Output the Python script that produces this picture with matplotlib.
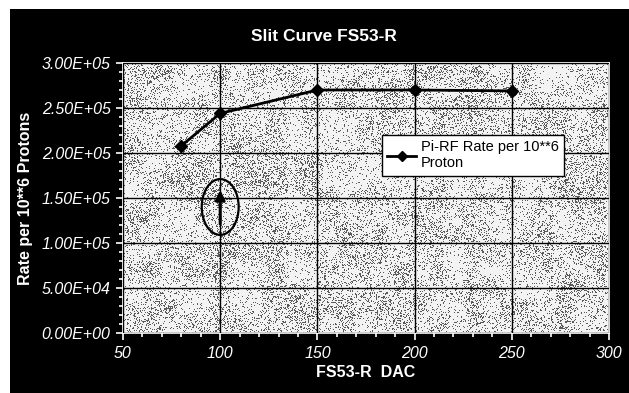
import matplotlib
matplotlib.use("Agg")
import matplotlib.pyplot as plt
import numpy as np
from matplotlib.patches import Rectangle, Ellipse
from matplotlib.ticker import MultipleLocator, FuncFormatter

plt.rcParams['font.family'] = ['Liberation Sans', 'DejaVu Sans']

# slit scan data
dac = [80, 100, 150, 200, 250]
rate = [2.08e5, 2.44e5, 2.70e5, 2.70e5, 2.69e5]
series_label = "Pi-RF Rate per 10**6\nProton"
marked_dac = dac[1]

fig = plt.figure(figsize=(6.29, 3.93), dpi=100, facecolor="white")
# black chart area (scan leaves a thin white strip at top and left)
fig.patches.append(Rectangle((10 / 629, 0), 1, 1 - 9 / 393, transform=fig.transFigure,
                             facecolor="black", edgecolor="none", zorder=-5))

ax = fig.add_axes([123 / 629, 60 / 393, 486 / 629, 270 / 393])
ax.set_xlim(50, 300)
ax.set_ylim(0, 3.0e5)

# halftone grey fill of the plot area
rng = np.random.default_rng(7)
h, w = 270, 486
coarse = rng.random((h // 18 + 2, w // 18 + 2))
dens = np.kron(coarse, np.ones((18, 18)))[:h, :w]
k = np.ones(9) / 9
for _ in range(2):
    dens = np.apply_along_axis(lambda r: np.convolve(r, k, mode="same"), 1, dens)
    dens = np.apply_along_axis(lambda c: np.convolve(c, k, mode="same"), 0, dens)
dens = 0.06 + 0.28 * dens
dots = rng.random((h, w)) < dens
tex = np.where(dots, 0.35, 0.95)
ax.imshow(tex, cmap="gray", vmin=0, vmax=1, extent=[50, 300, 0, 3.0e5],
          aspect="auto", interpolation="nearest", zorder=0)

ax.grid(True, which="major", color="black", linewidth=1.0, zorder=1)
ax.set_axisbelow(False)

ax.plot(dac, rate, color="black", linewidth=2, marker="D", markersize=6,
        label=series_label, zorder=3)

# hand-drawn mark around the 100 DAC point
ax.add_patch(Ellipse((marked_dac, 1.40e5), 19, 6.2e4, fill=False,
                     edgecolor="black", linewidth=1.6, zorder=4))
ax.annotate("", xy=(marked_dac, 1.62e5), xytext=(marked_dac, 1.18e5),
            arrowprops=dict(arrowstyle="-|>", color="black", lw=2.2,
                            mutation_scale=14), zorder=4)

ax.xaxis.set_major_locator(MultipleLocator(50))
ax.xaxis.set_minor_locator(MultipleLocator(10))
ax.yaxis.set_major_locator(MultipleLocator(5.0e4))
ax.yaxis.set_minor_locator(MultipleLocator(1.0e4))
ax.yaxis.set_major_formatter(FuncFormatter(lambda v, p: "%.2E" % v))

ax.tick_params(which="both", direction="out", color="white", labelcolor="white")
ax.tick_params(which="major", length=5, width=1.2, labelsize=11.5, pad=4)
ax.tick_params(which="minor", length=3, width=1.2)
for lab in ax.get_xticklabels() + ax.get_yticklabels():
    lab.set_fontstyle("italic")
for s in ax.spines.values():
    s.set_color("white")
    s.set_linewidth(1.2)

fig.text(0.515, 0.908, "Slit Curve FS53-R", color="white", fontsize=12.5,
         fontweight="bold", ha="center", va="center")
ax.set_xlabel("FS53-R  DAC", color="white", fontsize=11.5, fontweight="bold",
              labelpad=3)
ax.set_ylabel("Rate per 10**6 Protons", color="white", fontsize=11.5,
              fontweight="bold", labelpad=6)

leg = ax.legend(loc="upper left", bbox_to_anchor=(0.518, 0.76), fontsize=10.5,
                frameon=True, fancybox=False, framealpha=1, edgecolor="black",
                handlelength=2.0, handletextpad=0.3, borderpad=0.35,
                markerscale=0.8)
leg.get_frame().set_linewidth(1.0)
leg.set_zorder(5)

fig.savefig("out.png", dpi=100, facecolor=fig.get_facecolor())
